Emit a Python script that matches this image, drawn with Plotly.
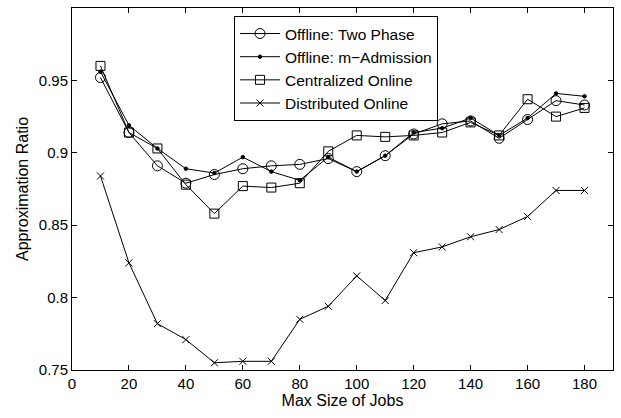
import plotly.graph_objects as go

x = [10, 20, 30, 40, 50, 60, 70, 80, 90, 100, 110, 120, 130, 140, 150, 160, 170, 180]
two_phase = [0.952, 0.914, 0.891, 0.879, 0.885, 0.889, 0.891, 0.892, 0.896, 0.887, 0.898, 0.913, 0.920, 0.922, 0.910, 0.923, 0.936, 0.933]
m_admission = [0.956, 0.919, 0.903, 0.889, 0.886, 0.897, 0.887, 0.881, 0.897, 0.887, 0.898, 0.914, 0.917, 0.924, 0.912, 0.924, 0.941, 0.939]
centralized = [0.960, 0.914, 0.903, 0.878, 0.858, 0.877, 0.876, 0.879, 0.901, 0.912, 0.911, 0.912, 0.914, 0.921, 0.912, 0.937, 0.925, 0.931]
distributed = [0.884, 0.824, 0.782, 0.771, 0.755, 0.756, 0.756, 0.785, 0.794, 0.815, 0.798, 0.831, 0.835, 0.842, 0.847, 0.856, 0.874, 0.874]

names = ["Offline: Two Phase", "Offline: m\u2212Admission", "Centralized Online", "Distributed Online"]
x_ticks = [0, 20, 40, 60, 80, 100, 120, 140, 160, 180]
y_ticks = [0.75, 0.8, 0.85, 0.9, 0.95, 1]
y_ticktext = ["0.75", "0.8", "0.85", "0.9", "0.95", "1"]

font = "Liberation Sans, Arial, Helvetica, sans-serif"

fig = go.Figure()
series = [
    (two_phase, names[0], dict(symbol="circle-open", size=10)),
    (m_admission, names[1], dict(symbol="circle", size=3.5)),
    (centralized, names[2], dict(symbol="square-open", size=9)),
    (distributed, names[3], dict(symbol="x-thin-open", size=7)),
]
for vals, name, mk in series:
    fig.add_trace(go.Scatter(
        x=x, y=vals, name=name, mode="lines+markers",
        line=dict(color="black", width=1),
        marker=dict(color="black", line=dict(color="black", width=1), **mk),
    ))

fig.update_layout(
    width=621, height=418,
    margin=dict(l=72, r=8, t=8, b=48),
    paper_bgcolor="white", plot_bgcolor="white",
    font=dict(family=font, size=15, color="black"),
    legend=dict(
        x=0.2995, y=0.978, xanchor="left", yanchor="top",
        bgcolor="white", bordercolor="black", borderwidth=1,
        font=dict(size=15.5), tracegroupgap=0, itemwidth=40,
    ),
    xaxis=dict(
        range=[0, 190], tickvals=x_ticks, showgrid=False, zeroline=False,
        showline=True, linecolor="black", linewidth=1, mirror="ticks",
        ticks="inside", ticklen=5, tickcolor="black",
        tickfont=dict(size=15),
        title=dict(text="Max Size of Jobs", standoff=2, font=dict(size=16)),
    ),
    yaxis=dict(
        range=[0.75, 1], tickvals=y_ticks, ticktext=y_ticktext,
        showgrid=False, zeroline=False,
        showline=True, linecolor="black", linewidth=1, mirror="ticks",
        ticks="inside", ticklen=5, tickcolor="black",
        tickfont=dict(size=15),
        title=dict(text="Approximation Ratio", standoff=6, font=dict(size=16)),
    ),
)

fig.write_html("out.html")
